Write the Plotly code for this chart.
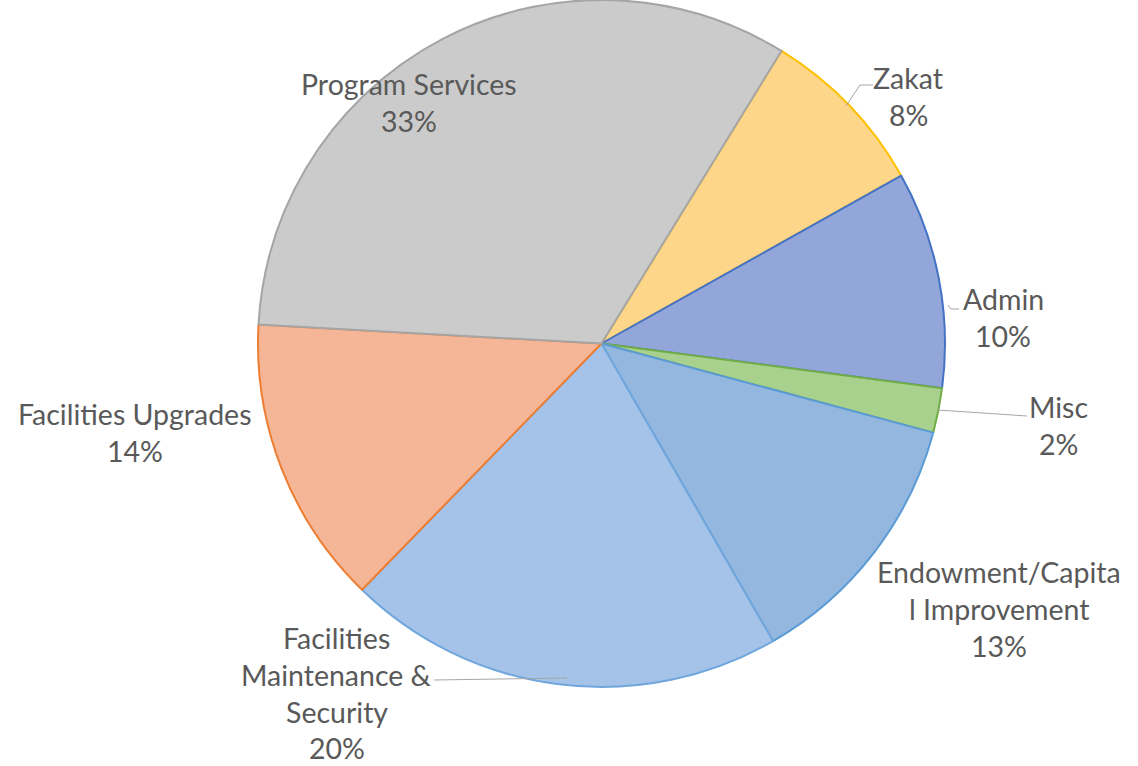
import plotly.graph_objects as go

# ---- data ----
categories = ["Zakat", "Admin", "Misc", "Endowment/Capital Improvement",
              "Facilities Maintenance & Security", "Facilities Upgrades", "Program Services"]
values = [8.1, 10.2, 2.1, 12.5, 20.6, 13.6, 32.9]
label_lines = [
    ["Zakat"],
    ["Admin"],
    ["Misc"],
    ["Endowment/Capita", "l Improvement"],
    ["Facilities", "Maintenance &", "Security"],
    ["Facilities Upgrades"],
    ["Program Services"],
]
percent_labels = ["8%", "10%", "2%", "13%", "20%", "14%", "33%"]

# ---- style ----
fill_colors = ["#fdd68a", "#93a6da", "#a9d18e", "#94b7df", "#a5c3e8", "#f5b597", "#cbcbcb"]
line_colors = ["#ffc000", "#4472c4", "#70ad47", "#5b9bd5", "#6fa6dc", "#ed7d31", "#a5a5a5"]

W, H = 1138, 766
# label placement (pixel centre x, first-line centre y) and line spacing
label_pos = [(908, 78), (1003, 299), (1058, 407), (999, 572), (337, 638), (135, 414), (409, 84)]
line_step = 36.8
# leader lines (pixel paths)
leaders = [
    [(846, 106), (860, 85), (873, 85)],
    [(948, 305), (951, 309), (959, 309)],
    [(938, 410), (1027, 416)],
    [(567, 678), (434, 680)],
]

fig = go.Figure(go.Pie(
    labels=categories,
    values=values,
    sort=False,
    direction="clockwise",
    rotation=31.6,
    textinfo="none",
    hoverinfo="skip",
    marker=dict(colors=fill_colors, line=dict(color=line_colors, width=2)),
    domain=dict(x=[258 / W, 945 / W], y=[1 - 687 / H, 1.0]),
    showlegend=False,
))

annotations = []
for lines, (px, py), pct in zip(label_lines, label_pos, percent_labels):
    all_lines = lines + [pct]
    for i, t in enumerate(all_lines):
        annotations.append(dict(
            x=px / W, y=1 - (py + i * line_step) / H, xref="paper", yref="paper",
            text=t, showarrow=False, xanchor="center", yanchor="middle",
            borderpad=0,
            font=dict(family="Lato", size=28.5, color="#595959"),
        ))

shapes = []
for pts in leaders:
    path = "M " + " L ".join(f"{x / W},{1 - y / H}" for x, y in pts)
    shapes.append(dict(type="path", path=path, xref="paper", yref="paper",
                       line=dict(color="#a6a6a6", width=1)))

fig.update_layout(
    width=W, height=H,
    margin=dict(l=0, r=0, t=0, b=0),
    paper_bgcolor="white", plot_bgcolor="white",
    annotations=annotations,
    shapes=shapes,
)

fig.write_html("out.html", config={"displayModeBar": False},
               post_script="document.body.style.margin='0';")
